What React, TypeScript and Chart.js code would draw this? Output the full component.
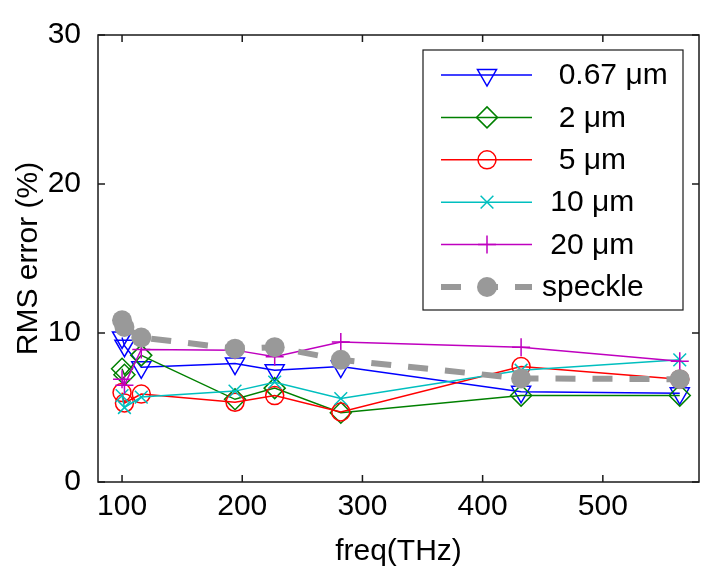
import React, { useEffect, useRef } from 'react';
import { Chart, registerables } from 'chart.js';

Chart.register(...registerables);

const freqTHz = [100, 102, 116, 194, 227, 282, 432, 564];
const err067 = [9.7, 9.15, 7.7, 7.95, 7.5, 7.75, 6.05, 5.95];
const err2 = [7.6, 7.2, 8.5, 5.55, 6.3, 4.65, 5.8, 5.8];
const err5 = [6.0, 5.3, 5.9, 5.35, 5.8, 4.7, 7.75, 6.9];
const err10 = [5.8, 5.0, 5.7, 6.1, 6.7, 5.6, 7.5, 8.2];
const err20 = [6.9, 6.5, 8.9, 8.85, 8.4, 9.4, 9.05, 8.1];
const errSpeckle = [10.85, 10.4, 9.7, 8.95, 9.05, 8.2, 6.95, 6.9];

const seriesLabels = ['  0.67 \u03bcm', '  2 \u03bcm', '  5 \u03bcm', ' 10 \u03bcm', ' 20 \u03bcm', 'speckle'];
const xTicks = [100, 200, 300, 400, 500];
const yTicks = [0, 10, 20, 30];
const xLabel = 'freq(THz)';
const yLabel = 'RMS error (%)';

const FONT = "'Liberation Sans', Arial, Helvetica, sans-serif";
const FS = 30;

type Marker = 'triangleDown' | 'diamond' | 'circle' | 'x' | 'plus' | 'dot';

const styles: { color: string; marker: Marker; r: number; dash: number[]; width: number }[] = [
  { color: '#0000ff', marker: 'triangleDown', r: 11, dash: [], width: 1.5 },
  { color: '#008000', marker: 'diamond', r: 10.5, dash: [], width: 1.5 },
  { color: '#ff0000', marker: 'circle', r: 9, dash: [], width: 1.5 },
  { color: '#00bfbf', marker: 'x', r: 9, dash: [], width: 1.5 },
  { color: '#bf00bf', marker: 'plus', r: 9, dash: [], width: 1.5 },
  { color: '#999999', marker: 'dot', r: 10, dash: [20, 17], width: 6 },
];

const seriesValues = [err067, err2, err5, err10, err20, errSpeckle];

function drawMarker(ctx: CanvasRenderingContext2D, m: Marker, x: number, y: number, r: number, color: string) {
  ctx.save();
  ctx.setLineDash([]);
  ctx.strokeStyle = color;
  ctx.fillStyle = color;
  ctx.lineWidth = 1.5;
  ctx.beginPath();
  if (m === 'triangleDown') {
    ctx.moveTo(x - r * 0.866, y - r * 0.5);
    ctx.lineTo(x + r * 0.866, y - r * 0.5);
    ctx.lineTo(x, y + r);
    ctx.closePath();
    ctx.stroke();
  } else if (m === 'diamond') {
    ctx.moveTo(x, y - r);
    ctx.lineTo(x + r, y);
    ctx.lineTo(x, y + r);
    ctx.lineTo(x - r, y);
    ctx.closePath();
    ctx.stroke();
  } else if (m === 'circle') {
    ctx.arc(x, y, r, 0, Math.PI * 2);
    ctx.stroke();
  } else if (m === 'x') {
    const d = r * Math.SQRT1_2;
    ctx.moveTo(x - d, y - d);
    ctx.lineTo(x + d, y + d);
    ctx.moveTo(x - d, y + d);
    ctx.lineTo(x + d, y - d);
    ctx.stroke();
  } else if (m === 'plus') {
    ctx.moveTo(x - r, y);
    ctx.lineTo(x + r, y);
    ctx.moveTo(x, y - r);
    ctx.lineTo(x, y + r);
    ctx.stroke();
  } else {
    ctx.arc(x, y, r, 0, Math.PI * 2);
    ctx.fill();
  }
  ctx.restore();
}

const pointStyleMap: Record<Marker, string> = {
  triangleDown: 'triangle',
  diamond: 'rectRot',
  circle: 'circle',
  x: 'crossRot',
  plus: 'cross',
  dot: 'circle',
};

const framePlugin = {
  id: 'matlabFrame',
  afterDatasetsDraw(chart: any) {
    const ctx: CanvasRenderingContext2D = chart.ctx;
    const { left, right, top, bottom } = chart.chartArea;
    const xs = chart.scales.x;
    const ys = chart.scales.y;
    ctx.save();
    ctx.strokeStyle = '#1a1a1a';
    ctx.lineWidth = 1.5;
    ctx.setLineDash([]);
    ctx.strokeRect(left, top, right - left, bottom - top);
    const tl = 7;
    ctx.beginPath();
    xTicks.forEach((v) => {
      const px = xs.getPixelForValue(v);
      ctx.moveTo(px, bottom);
      ctx.lineTo(px, bottom - tl);
      ctx.moveTo(px, top);
      ctx.lineTo(px, top + tl);
    });
    yTicks.forEach((v) => {
      const py = ys.getPixelForValue(v);
      ctx.moveTo(left, py);
      ctx.lineTo(left + tl, py);
      ctx.moveTo(right, py);
      ctx.lineTo(right - tl, py);
    });
    ctx.stroke();

    // legend
    const bx = right - 276;
    const by = top + 15;
    const bw = 260;
    const bh = 260;
    ctx.fillStyle = '#ffffff';
    ctx.fillRect(bx, by, bw, bh);
    ctx.lineWidth = 1.2;
    ctx.strokeStyle = '#1a1a1a';
    ctx.strokeRect(bx, by, bw, bh);
    ctx.font = `${FS}px ${FONT}`;
    ctx.textBaseline = 'middle';
    ctx.textAlign = 'left';
    seriesLabels.forEach((lab, i) => {
      const st = styles[i];
      const ry = by + 25 + i * 42.4;
      ctx.save();
      ctx.strokeStyle = st.color;
      ctx.lineWidth = st.width;
      ctx.setLineDash(st.dash);
      ctx.beginPath();
      ctx.moveTo(bx + 18, ry);
      ctx.lineTo(bx + 109, ry);
      ctx.stroke();
      ctx.restore();
      drawMarker(ctx, st.marker, bx + 64, ry, st.r, st.color);
      ctx.fillStyle = '#000';
      ctx.fillText(lab, bx + 119, ry + 1);
    });
    ctx.restore();
  },
};

export default function App() {
  const ref = useRef<HTMLCanvasElement | null>(null);
  useEffect(() => {
    if (!ref.current) return;
    const datasets = seriesValues.map((vals, i) => {
      const st = styles[i];
      return {
        label: seriesLabels[i],
        data: freqTHz.map((f, j) => ({ x: f, y: vals[j] })),
        borderColor: st.color,
        borderWidth: st.width,
        borderDash: st.dash,
        pointStyle: pointStyleMap[st.marker],
        pointRotation: st.marker === 'triangleDown' ? 180 : 0,
        pointRadius: st.r,
        pointHoverRadius: st.r,
        pointBorderWidth: st.marker === 'dot' ? 0 : 1.5,
        pointBorderColor: st.color,
        pointBackgroundColor: st.marker === 'dot' ? st.color : 'rgba(0,0,0,0)',
        fill: false,
        tension: 0,
        order: 5 - i,
      };
    });
    const chart = new Chart(ref.current, {
      type: 'line',
      data: { datasets },
      options: {
        responsive: false,
        animation: false,
        devicePixelRatio: 1,
        layout: { padding: { left: 0, top: 23, right: 13, bottom: 0 } },
        plugins: { legend: { display: false }, tooltip: { enabled: false } },
        scales: {
          x: {
            type: 'linear',
            min: 80,
            max: 580,
            grid: { display: false, drawTicks: false },
            border: { display: false },
            afterBuildTicks: (s: any) => {
              s.ticks = xTicks.map((v) => ({ value: v }));
            },
            afterFit: (s: any) => {
              s.height = 94;
            },
            ticks: { color: '#000', font: { family: FONT, size: FS }, padding: 7, maxRotation: 0, autoSkip: false },
            title: { display: true, text: xLabel, color: '#000', font: { family: FONT, size: FS }, padding: { top: 0, bottom: 6 } },
          },
          y: {
            type: 'linear',
            min: 0,
            max: 30,
            grid: { display: false, drawTicks: false },
            border: { display: false },
            afterBuildTicks: (s: any) => {
              s.ticks = yTicks.map((v) => ({ value: v }));
            },
            afterFit: (s: any) => {
              s.width = 98;
            },
            ticks: { color: '#000', font: { family: FONT, size: FS }, padding: 17 },
            title: { display: true, text: yLabel, color: '#000', font: { family: FONT, size: FS }, padding: { top: 11, bottom: 0 } },
          },
        },
      },
      plugins: [framePlugin],
    });
    return () => chart.destroy();
  }, []);
  return (
    <div style={{ position: 'fixed', left: 0, top: 0, width: 712, height: 576, background: '#fff' }}>
      <canvas ref={ref} width={712} height={576} style={{ width: 712, height: 576, display: 'block' }} />
    </div>
  );
}
